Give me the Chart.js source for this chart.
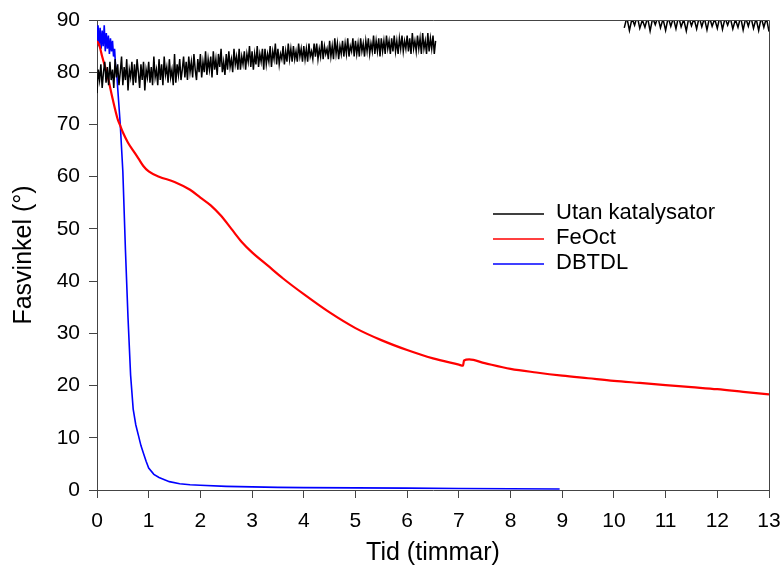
<!DOCTYPE html>
<html>
<head>
<meta charset="utf-8">
<script src="https://cdn.jsdelivr.net/npm/chart.js@4/dist/chart.umd.min.js"></script>
<style>
html,body{margin:0;padding:0;background:#fff;}
#wrap{width:783px;height:571px;position:relative;}
</style>
</head>
<body>
<div id="wrap"><canvas id="c" width="783" height="571"></canvas></div>
<script>
// ---- Data ----
const seriesNames = ["Utan katalysator", "FeOct", "DBTDL"];
const xTicks = [0,1,2,3,4,5,6,7,8,9,10,11,12,13];
const yTicks = [0,10,20,30,40,50,60,70,80,90];

// Utan katalysator, first recorded segment: [time h, phase angle °]
const utanFirst = [
[0.000,76.0],[0.025,80.5],[0.050,78.5],[0.075,81.5],[0.100,77.0],[0.125,80.0],[0.150,82.0],[0.175,78.0],[0.200,81.0],[0.225,77.5],
[0.250,82.0],[0.275,78.5],[0.300,80.5],[0.325,77.0],[0.350,82.5],[0.375,79.0],[0.400,81.5],[0.425,77.5],[0.450,80.0],[0.475,83.0],
[0.500,77.5],[0.525,81.0],[0.550,78.5],[0.575,82.5],[0.600,76.5],[0.625,80.5],[0.650,79.0],[0.675,82.0],[0.700,77.5],[0.725,81.5],
[0.750,78.0],[0.775,82.5],[0.800,80.0],[0.825,77.0],[0.850,81.5],[0.875,78.5],[0.900,82.0],[0.925,76.5],[0.950,80.5],[0.975,79.0],
[1.000,82.0],[1.025,78.0],[1.050,81.0],[1.075,77.5],[1.100,83.0],[1.125,79.0],[1.150,80.5],[1.175,77.5],[1.200,82.5],[1.225,78.5],
[1.250,81.5],[1.275,77.5],[1.300,83.0],[1.325,79.5],[1.350,81.0],[1.375,78.0],[1.400,82.5],[1.425,79.0],[1.450,80.5],[1.475,77.5],
[1.500,83.5],[1.525,78.0],[1.550,81.5],[1.575,79.5],[1.600,82.5],[1.625,78.5],[1.650,80.5],[1.675,83.0],[1.700,79.0],[1.725,82.0],
[1.750,78.5],[1.775,83.0],[1.800,80.0],[1.825,82.0],[1.850,79.0],[1.875,83.5],[1.900,80.5],[1.925,78.5],[1.950,82.5],[1.975,80.0],
[2.000,83.5],[2.025,79.0],[2.050,82.0],[2.075,80.0],[2.100,84.0],[2.125,79.5],[2.150,82.5],[2.175,80.5],[2.200,83.0],[2.225,79.0],
[2.250,84.0],[2.275,80.5],[2.300,82.5],[2.325,79.5],[2.350,83.5],[2.375,81.0],[2.400,84.5],[2.425,80.0],[2.450,82.0],[2.475,79.5],
[2.500,83.5],[2.525,80.5],[2.550,84.0],[2.575,81.0],[2.600,82.5],[2.625,80.0],[2.650,84.5],[2.675,81.5],[2.700,83.0],[2.725,80.5],
[2.750,84.5],[2.775,80.5],[2.800,83.0],[2.825,81.5],[2.850,84.0],[2.875,80.5],[2.900,83.5],[2.925,82.0],[2.950,85.0],[2.975,81.0],
[3.000,84.0],[3.025,80.5],[3.050,83.5],[3.075,81.5],[3.100,85.0],[3.125,81.0],[3.150,83.5],[3.175,82.0],[3.200,84.5],[3.225,80.5],
[3.250,84.5],[3.275,81.5],[3.300,83.5],[3.325,82.0],[3.350,85.0],[3.375,81.0],[3.400,84.0],[3.425,82.5],[3.450,85.5],[3.475,81.5],
[3.500,84.5],[3.525,81.5],[3.550,83.5],[3.575,82.5],[3.600,85.0],[3.625,81.5],[3.650,84.0],[3.675,82.0],[3.700,85.5],[3.725,82.5],
[3.750,84.5],[3.775,82.0],[3.800,85.0],[3.825,82.5],[3.850,84.0],[3.875,82.0],[3.900,85.5],[3.925,83.0],[3.950,84.5],[3.975,82.0],
[4.000,85.0],[4.025,82.5],[4.050,84.5],[4.075,82.0],[4.100,85.5],[4.125,83.0],[4.150,84.0],[4.175,82.5],[4.200,85.5],[4.225,83.0],
[4.250,85.5],[4.275,82.5],[4.300,84.5],[4.325,83.0],[4.350,86.0],[4.375,82.5],[4.400,85.0],[4.425,83.5],[4.450,84.5],[4.475,82.5],
[4.500,86.0],[4.525,83.0],[4.550,85.0],[4.575,82.5],[4.600,86.5],[4.625,83.5],[4.650,85.5],[4.675,82.5],[4.700,85.0],[4.725,83.5],
[4.750,86.0],[4.775,83.0],[4.800,85.5],[4.825,83.5],[4.850,86.5],[4.875,83.0],[4.900,85.0],[4.925,84.0],[4.950,86.5],[4.975,83.0],
[5.000,86.0],[5.025,83.5],[5.050,85.5],[5.075,83.0],[5.100,86.5],[5.125,84.0],[5.150,85.5],[5.175,83.0],[5.200,86.0],[5.225,84.0],
[5.250,86.5],[5.275,83.5],[5.300,85.5],[5.325,84.0],[5.350,87.0],[5.375,83.5],[5.400,86.0],[5.425,84.0],[5.450,86.5],[5.475,83.0],
[5.500,86.5],[5.525,84.0],[5.550,86.0],[5.575,83.5],[5.600,87.0],[5.625,84.5],[5.650,86.0],[5.675,83.5],[5.700,86.5],[5.725,84.0],
[5.750,87.0],[5.775,84.0],[5.800,86.0],[5.825,83.5],[5.850,86.5],[5.875,84.5],[5.900,87.0],[5.925,84.0],[5.950,86.0],[5.975,84.5],
[6.000,87.0],[6.025,84.0],[6.050,86.5],[6.075,83.5],[6.100,87.5],[6.125,84.5],[6.150,86.0],[6.175,84.0],[6.200,87.0],[6.225,84.5],
[6.250,86.5],[6.275,83.5],[6.300,87.5],[6.325,84.5],[6.350,86.0],[6.375,83.5],[6.400,87.5],[6.425,84.0],[6.450,86.5],[6.475,84.5],
[6.500,87.0],[6.525,83.5],[6.550,86.0]
];
// Utan katalysator, second recorded segment
const utanSecond = [
[10.20,88.5],[10.25,90.5],[10.30,88.0],[10.35,90.3],[10.40,89.0],[10.45,90.8],[10.50,88.4],[10.55,90.0],[10.60,88.6],[10.65,90.5],
[10.70,87.9],[10.75,90.4],[10.80,89.1],[10.85,90.6],[10.90,88.5],[10.95,90.2],[11.00,88.0],[11.05,90.5],[11.10,88.8],[11.15,90.4],
[11.20,88.3],[11.25,90.7],[11.30,88.7],[11.35,90.1],[11.40,87.9],[11.45,90.5],[11.50,88.9],[11.55,90.3],[11.60,88.3],[11.65,90.6],
[11.70,88.7],[11.75,90.4],[11.80,88.1],[11.85,90.5],[11.90,88.8],[11.95,90.2],[12.00,88.4],[12.05,90.7],[12.10,88.2],[12.15,90.4],
[12.20,89.0],[12.25,90.5],[12.30,88.3],[12.35,90.1],[12.40,88.6],[12.45,90.6],[12.50,88.1],[12.55,90.4],[12.60,88.8],[12.65,90.6],
[12.70,88.4],[12.75,90.3],[12.80,88.0],[12.85,90.5],[12.90,88.6],[12.95,90.4],[13.00,87.8]
];
const feoct = [
[0,86],[0.05,85],[0.1,83],[0.2,79.5],[0.3,75],[0.4,71],[0.44,70],[0.5,68.5],[0.6,66.5],[0.7,65],
[0.8,63.5],[0.9,62],[1.0,61],[1.2,60],[1.5,59],[1.8,57.5],[2.0,56],[2.2,54.5],[2.4,52.5],[2.6,50],
[2.8,47.5],[3.0,45.5],[3.3,43],[3.6,40.5],[4.0,37.5],[4.5,34],[5.0,31],[5.5,28.7],[6.0,26.8],[6.5,25.2],
[7.0,24],[7.08,23.8],[7.1,24.8],[7.2,25],[7.5,24.3],[8,23.2],[8.5,22.5],[9,21.9],[9.5,21.4],[10,20.9],
[10.5,20.5],[11,20.1],[11.5,19.7],[12,19.3],[12.5,18.8],[13,18.3]
];
const dbtdl = [
[0,86],[0.02,89],[0.04,85],[0.06,88.5],[0.08,84.5],[0.1,88],[0.12,85],[0.14,89],[0.16,84],[0.18,87.5],
[0.2,84.5],[0.22,87],[0.24,83.5],[0.26,86.5],[0.28,84],[0.3,86],[0.32,83],[0.34,84.5],[0.36,81],[0.38,80],
[0.4,77],[0.45,70],[0.5,61],[0.55,46],[0.6,33],[0.65,22],[0.7,15.5],[0.75,12.5],[0.8,10.5],[0.85,8.5],
[0.9,7],[0.95,5.5],[1.0,4.2],[1.1,3.0],[1.2,2.4],[1.4,1.6],[1.6,1.2],[1.8,1.0],[2.0,0.9],[2.5,0.7],
[3,0.6],[3.5,0.5],[4,0.45],[5,0.4],[6,0.35],[7,0.3],[8,0.25],[8.95,0.2]
];
const seriesColors = ["#000000", "#ff0000", "#0000ff"];

// ---- Build chart ----
const toPts = arr => arr.map(p => ({x:p[0], y:p[1]}));
const utanPts = toPts(utanFirst).concat([{x:8.4, y:null}], toPts(utanSecond));

const FONT = "'Liberation Sans', Arial, sans-serif";
const L = 97, R = 769, T = 20, B = 490;

const frame = {
  id: 'frame',
  afterDatasetsDraw(chart) {
    const {ctx, chartArea:a} = chart;
    ctx.save();
    ctx.strokeStyle = '#444';
    ctx.lineWidth = 1;
    ctx.beginPath();
    ctx.moveTo(a.left, a.top + 0.5); ctx.lineTo(a.right + 0.5, a.top + 0.5);
    ctx.lineTo(a.right + 0.5, a.bottom);
    ctx.stroke();
    ctx.restore();
  },
  afterDraw(chart) {
    const {ctx} = chart;
    ctx.save();
    ctx.font = "22px " + FONT;
    ctx.textBaseline = 'middle';
    ctx.textAlign = 'left';
    const ys = [213, 238, 263];
    chart.data.datasets.forEach((ds, i) => {
      ctx.strokeStyle = ds.borderColor;
      ctx.lineWidth = 1.5;
      ctx.beginPath();
      ctx.moveTo(493, ys[i] + 1); ctx.lineTo(544, ys[i] + 1);
      ctx.stroke();
      ctx.fillStyle = '#000';
      ctx.fillText(ds.label, 556, ys[i]);
    });
    ctx.restore();
  }
};

new Chart(document.getElementById('c'), {
  type: 'line',
  data: {
    datasets: [
      {label: seriesNames[0], data: utanPts, borderColor: seriesColors[0], borderWidth: 1.5, pointRadius: 0, spanGaps: false, tension: 0},
      {label: seriesNames[1], data: toPts(feoct), borderColor: seriesColors[1], borderWidth: 2.2, pointRadius: 0, cubicInterpolationMode: 'monotone'},
      {label: seriesNames[2], data: toPts(dbtdl), borderColor: seriesColors[2], borderWidth: 1.6, pointRadius: 0, tension: 0}
    ]
  },
  options: {
    responsive: false,
    animation: false,
    layout: {padding: {top: T, right: 783 - R, left: 0, bottom: 0}},
    plugins: {legend: {display: false}, tooltip: {enabled: false}},
    scales: {
      x: {
        type: 'linear', min: 0, max: 13,
        afterBuildTicks: s => { s.ticks = xTicks.map(v => ({value: v})); },
        afterFit: s => { s.height = 571 - B; s.paddingLeft = 0; s.paddingRight = 0; },
        grid: {drawOnChartArea: false, tickLength: 8, color: '#444', tickColor: '#444'},
        border: {color: '#444', width: 1},
        ticks: {color: '#000', font: {family: FONT, size: 21}, padding: 11, maxRotation: 0, autoSkip: false},
        title: {display: true, text: 'Tid (timmar)', color: '#000', font: {family: FONT, size: 25}, padding: {top: 0, bottom: 3}}
      },
      y: {
        type: 'linear', min: 0, max: 90,
        afterBuildTicks: s => { s.ticks = yTicks.map(v => ({value: v})); },
        afterFit: s => { s.width = L; s.paddingTop = 0; s.paddingBottom = 0; },
        grid: {drawOnChartArea: false, tickLength: 8, color: '#444', tickColor: '#444'},
        border: {color: '#444', width: 1},
        ticks: {color: '#000', font: {family: FONT, size: 21}, padding: 9, autoSkip: false},
        title: {display: true, text: 'Fasvinkel (°)', color: '#000', font: {family: FONT, size: 25}, padding: {top: 9, bottom: 0}}
      }
    }
  },
  plugins: [frame]
});
</script>
</body>
</html>
